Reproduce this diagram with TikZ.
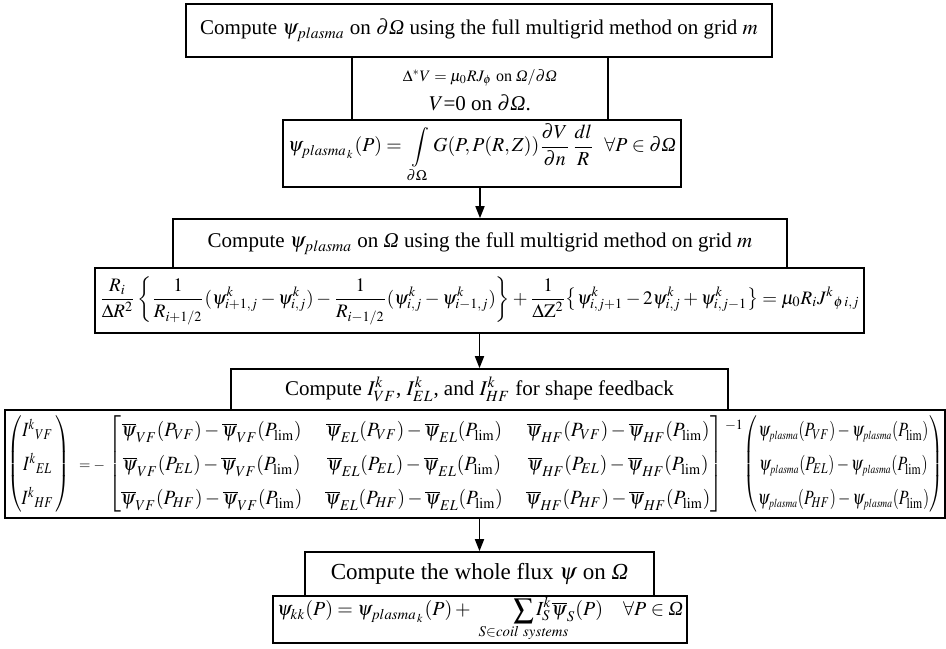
\documentclass[tikz,border=0pt]{standalone}
\usepackage{amsmath}
\usepackage{mathptmx}
\usepackage[no-math]{fontspec}
\setmainfont{Liberation Serif}
\usetikzlibrary{arrows.meta}
\newcommand{\iOmega}{\mathord{\textit{Ω}}}
\newcommand{\myclap}[1]{\makebox[0pt]{$\scriptstyle #1$}}
\begin{document}
\begin{tikzpicture}[x=0.5pt,y=-0.5pt,
  box/.style={draw,line width=0.8pt,inner sep=0pt,align=center},
  arr/.style={line width=0.8pt,-{Triangle[length=6pt,width=4.5pt]}},
  ttl/.style={font=\fontsize{10.5}{12}\selectfont}]
\useasboundingbox (0,0) rectangle (946,648);
% boxes
\node[box,ttl,minimum width=293pt,minimum height=26.5pt] (b1) at (479,30.5)
  {Compute $\psi_{plasma}$ on $\partial\iOmega$ using the full multigrid method on grid $m$};
\node[box,minimum width=128pt,minimum height=31.5pt] (b2) at (480,88.5) {};
\node[font=\fontsize{8}{9}\selectfont,inner sep=0pt] (b2a) at (480,78)
  {$\Delta^{*}V=\mu_0 RJ_\phi$ on $\iOmega/\partial\iOmega$};
\node[ttl,inner sep=0pt] (b2b) at (480,103) {$V$=0 on $\partial\iOmega$.};
\node[box,minimum width=199pt,minimum height=33.5pt] (b3) at (482,153.5)
  {\resizebox{194pt}{!}{$\displaystyle \psi_{{plasma}_{\,k}}(P)=\;\int\limits_{\partial\Omega}G(P,P(R,Z))\frac{\partial V}{\partial n}\,\frac{dl}{R}\ \ \forall P\in\partial\iOmega$}};
\node[box,ttl,minimum width=307pt,minimum height=24.5pt] (b4) at (480,243.5)
  {Compute $\psi_{plasma}$ on $\iOmega$ using the full multigrid method on grid $m$};
\node[box,minimum width=384.5pt,minimum height=32.5pt] (b5) at (479.5,300.5)
  {\resizebox{380pt}{!}{$\displaystyle \frac{R_i}{\Delta R^2}\left\{\frac{1}{R_{i+1/2}}(\psi^{k}_{i+1,j}-\psi^{k}_{i,j})-\frac{1}{R_{i-1/2}}(\psi^{k}_{i,j}-\psi^{k}_{i-1,j})\right\}+\frac{1}{\Delta \mathrm{Z}^2}\bigl\{\psi^{k}_{i,j+1}-2\psi^{k}_{i,j}+\psi^{k}_{i,j-1}\bigr\}=\mu_0R_iJ^{k}{}_{\phi\,i,j}$}};
\node[box,ttl,minimum width=248.5pt,minimum height=20.5pt] (b6) at (479.5,389.5)
  {Compute $I^{k}_{VF}$, $I^{k}_{EL}$, and $I^{k}_{HF}$ for shape feedback};
\node[box,minimum width=470pt,minimum height=54pt] (b7) at (475,464)
  {\renewcommand{\arraystretch}{1.4}\setlength{\arraycolsep}{4pt}%
  \resizebox*{31.5pt}{51pt}{$\begin{pmatrix} I^{k}{}_{VF}\,\\ I^{k}{}_{EL}\,\\ I^{k}{}_{HF}\,\end{pmatrix}$}%
  \hspace{4.5pt}\resizebox{13pt}{!}{$=-$}\hspace{1.5pt}%
  \setlength{\arraycolsep}{6pt}%
  \resizebox*{307.5pt}{51pt}{$\begin{bmatrix}
  \overline{\psi}_{VF}(P_{VF})-\overline{\psi}_{VF}(P_{\mathrm{lim}}) & \overline{\psi}_{EL}(P_{VF})-\overline{\psi}_{EL}(P_{\mathrm{lim}}) & \overline{\psi}_{HF}(P_{VF})-\overline{\psi}_{HF}(P_{\mathrm{lim}})\\
  \overline{\psi}_{VF}(P_{EL})-\overline{\psi}_{VF}(P_{\mathrm{lim}}) & \overline{\psi}_{EL}(P_{EL})-\overline{\psi}_{EL}(P_{\mathrm{lim}}) & \overline{\psi}_{HF}(P_{EL})-\overline{\psi}_{HF}(P_{\mathrm{lim}})\\
  \overline{\psi}_{VF}(P_{HF})-\overline{\psi}_{VF}(P_{\mathrm{lim}}) & \overline{\psi}_{EL}(P_{HF})-\overline{\psi}_{EL}(P_{\mathrm{lim}}) & \overline{\psi}_{HF}(P_{HF})-\overline{\psi}_{HF}(P_{\mathrm{lim}})
  \end{bmatrix}$}%
  \hspace{1pt}\raisebox{20pt}{\fontsize{7}{8}\selectfont$-1$}\hspace{0.5pt}%
  \setlength{\arraycolsep}{3pt}%
  \resizebox*{99.5pt}{51pt}{$\begin{pmatrix}
  \psi_{\scriptscriptstyle plasma}(P_{VF})-\psi_{\scriptscriptstyle plasma}(P_{\mathrm{lim}})\\
  \psi_{\scriptscriptstyle plasma}(P_{EL})-\psi_{\scriptscriptstyle plasma}(P_{\mathrm{lim}})\\
  \psi_{\scriptscriptstyle plasma}(P_{HF})-\psi_{\scriptscriptstyle plasma}(P_{\mathrm{lim}})
  \end{pmatrix}$}};
\node[box,font=\fontsize{11.5}{13}\selectfont,minimum width=174.5pt,minimum height=22pt] (b8) at (479.5,574)
  {Compute the whole flux $\psi$ on $\iOmega$};
\node[box,minimum width=207pt,minimum height=23.5pt] (b9) at (480,619.5)
  {\resizebox{203pt}{!}{$\displaystyle \psi_{kk}(P)=\psi_{{plasma}_{\,k}}(P)+\qquad\sum_{\myclap{S\in \mathit{coil\ systems}}}I^{k}_{S}\overline{\psi}_{S}(P)\quad\forall P\in\iOmega$}};
% connectors
\draw[arr] (b4.north |- b3.south) -- (b4.north);
\draw[arr] (b6.north |- b5.south) -- (b6.north);
\draw[arr] (b8.north |- b7.south) -- (b8.north);
\end{tikzpicture}
\end{document}
